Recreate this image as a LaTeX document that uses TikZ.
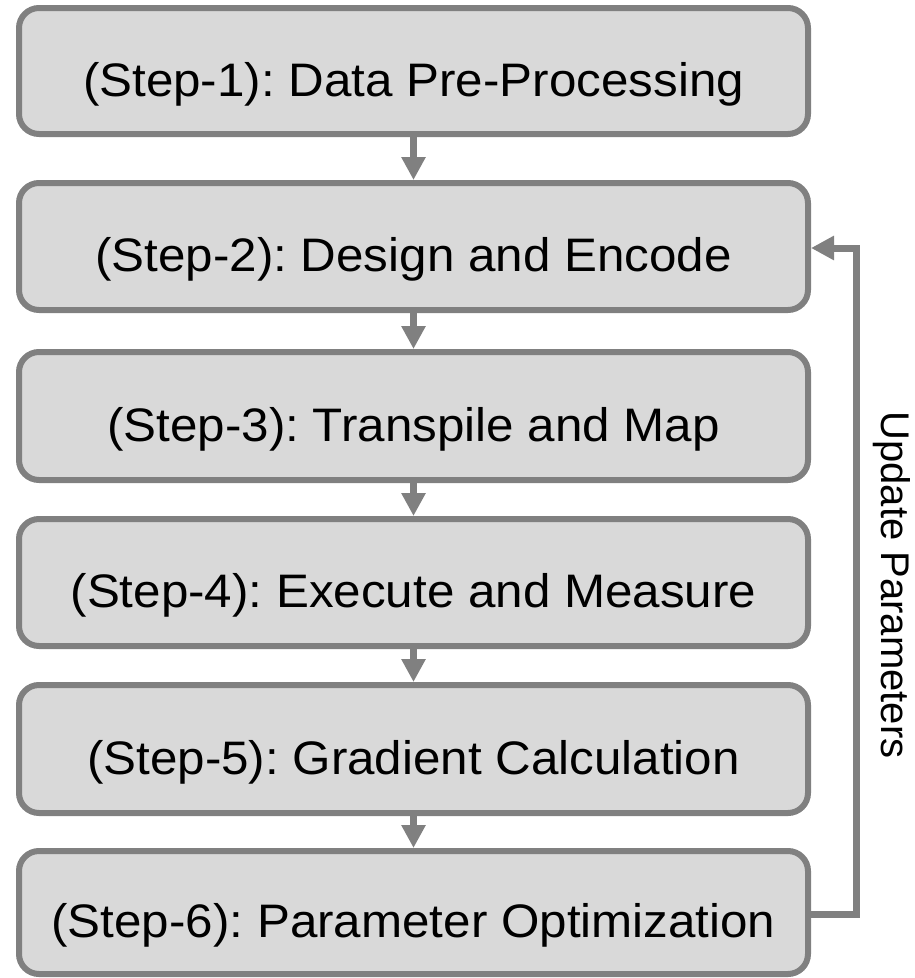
\documentclass[tikz,border=0pt]{standalone}
\usepackage{fontspec}
\setmainfont{Liberation Sans}
\newfontfamily\boxfont[FakeStretch=1.05]{Liberation Sans}
\usetikzlibrary{arrows.meta}
\frenchspacing
\definecolor{edgegray}{RGB}{128,128,128}
\definecolor{boxfill}{RGB}{217,217,217}
\tikzset{
  stepbox/.style={draw=edgegray, fill=boxfill, line width=6pt, rounded corners=20pt,
    minimum width=789pt, inner sep=0pt},
  steptext/.style={anchor=base, inner sep=0pt, font=\boxfont\fontsize{47}{56}\selectfont},
  flow/.style={draw=edgegray, line width=7pt, -{Triangle[length=23pt,width=23pt]}},
  looplabel/.style={rotate=-90, inner sep=0pt, font=\fontsize{40}{48}\selectfont}
}
\begin{document}
\begin{tikzpicture}[x=1pt,y=-1pt]
  \useasboundingbox (0,0) rectangle (914,978);

  % process boxes (centre y, height)
  \node[stepbox, minimum height=126pt] (b1) at (413.5,71) {};
  \node[stepbox, minimum height=127pt] (b2) at (413.5,246.5) {};
  \node[stepbox, minimum height=128pt] (b3) at (413.5,416) {};
  \node[stepbox, minimum height=127pt] (b4) at (413.5,582.5) {};
  \node[stepbox, minimum height=128pt] (b5) at (413.5,749) {};
  \node[stepbox, minimum height=123pt] (b6) at (413.5,912.5) {};

  % box captions
  \node[steptext] (t1) at ([yshift=-25pt]b1.center) {(Step-1): Data Pre-Processing};
  \node[steptext] (t2) at ([yshift=-25pt]b2.center) {(Step-2): Design and Encode};
  \node[steptext] (t3) at ([yshift=-25pt]b3.center) {(Step-3): Transpile and Map};
  \node[steptext] (t4) at ([yshift=-25pt]b4.center) {(Step-4): Execute and Measure};
  \node[steptext] (t5) at ([yshift=-25pt]b5.center) {(Step-5): Gradient Calculation};
  \node[steptext] (t6) at ([yshift=-25pt]b6.center) {(Step-6): Parameter Optimization};

  % downward flow
  \draw[flow] (b1) -- (b2);
  \draw[flow] (b2) -- (b3);
  \draw[flow] (b3) -- (b4);
  \draw[flow] (b4) -- (b5);
  \draw[flow] (b5) -- (b6);

  % feedback loop
  \coordinate (loopbot) at (856,914);
  \coordinate (looptop) at (856,248);
  \draw[flow, line join=miter]
    (b6.east |- loopbot) -- (loopbot) -- (looptop) -- (b2.east |- looptop);
  \node[looplabel] (upd) at (892,585) {Update Parameters};
\end{tikzpicture}
\end{document}
